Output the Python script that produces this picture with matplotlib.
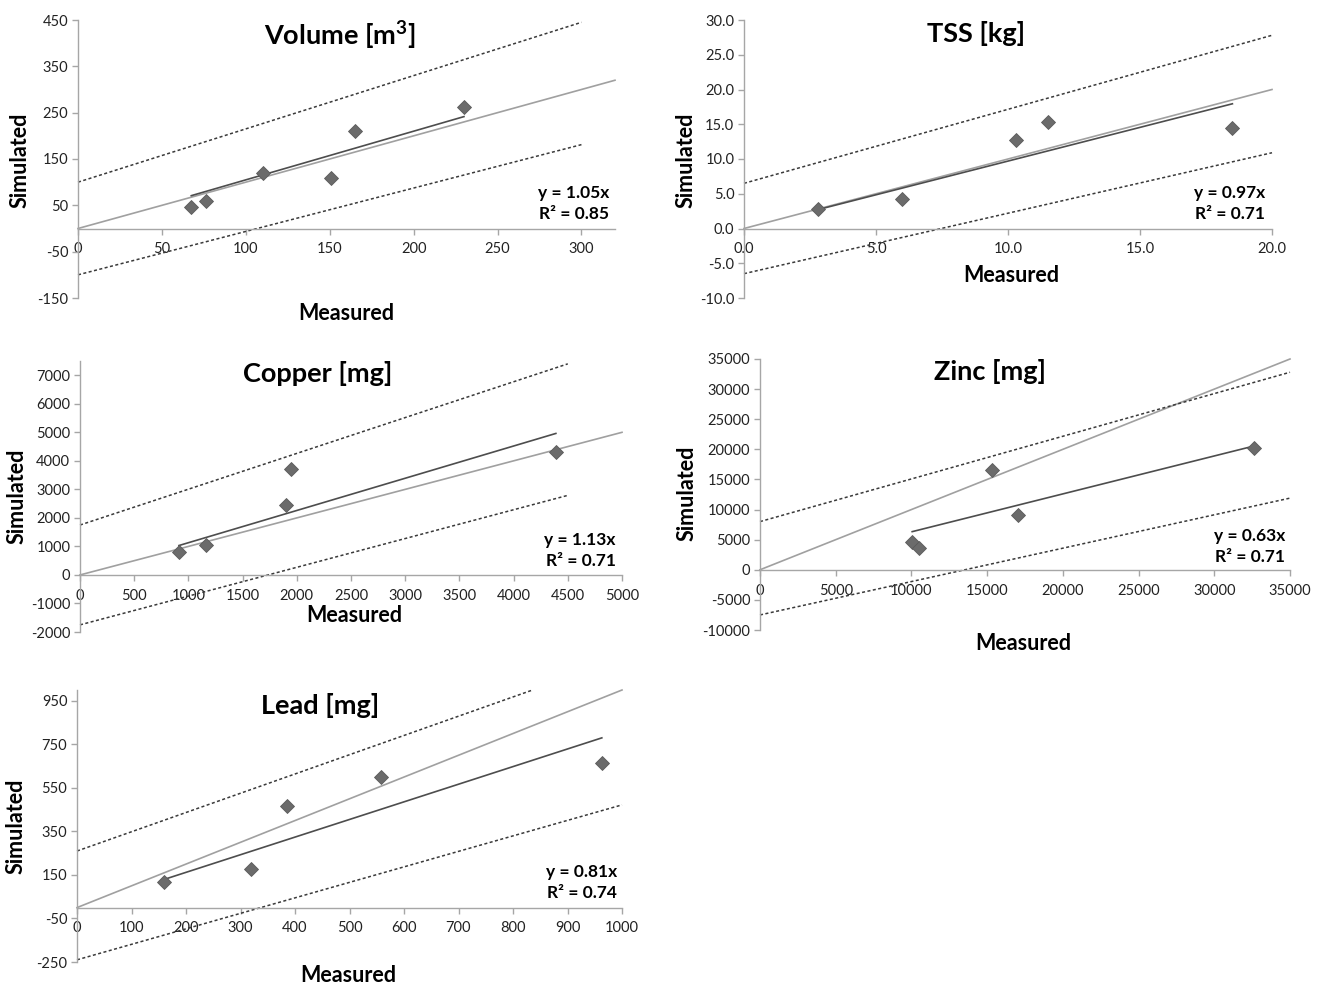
import matplotlib; matplotlib.use('Agg')
import matplotlib.pyplot as plt
import numpy as np

plt.rcParams.update({
    'font.family': ['Lato', 'DejaVu Sans'],
    'font.size': 10.5,
    'axes.linewidth': 1.0,
    'mathtext.fontset': 'custom',
    'mathtext.rm': 'Lato',
    'mathtext.bf': 'Lato:bold',
})
W, H = 1320, 984
AXIS, ONE, FIT, BAND, MARK = '#a6a6a6', '#a0a0a0', '#4d4d4d', '#3a3a3a', '#6b6b6b'

# Volume [m3]
vol_meas = [67.5, 76, 110, 151, 165, 230]
vol_sim = [47, 60, 120, 109, 210, 262]
vol_slope, vol_r2 = 1.05, 0.85
vol_up_x, vol_up_y = [0, 300], [100, 445]
vol_lo_x, vol_lo_y = [0, 300], [-100, 181]

# TSS [kg]
tss_meas = [2.8, 6.0, 10.3, 11.5, 18.5]
tss_sim = [2.8, 4.3, 12.8, 15.3, 14.4]
tss_slope, tss_r2 = 0.97, 0.71
tss_up_x, tss_up_y = [0, 20], [6.5, 27.8]
tss_lo_x, tss_lo_y = [0, 20], [-6.5, 10.9]

# Copper [mg]
cu_meas = [913, 1158, 1904, 1943, 4390]
cu_sim = [790, 1060, 2450, 3720, 4320]
cu_slope, cu_r2 = 1.13, 0.71
cu_up_x, cu_up_y = [0, 4500], [1750, 7400]
cu_lo_x, cu_lo_y = [0, 4500], [-1750, 2790]

# Zinc [mg]
zn_meas = [10050, 10500, 15300, 17050, 32650]
zn_sim = [4650, 3600, 16550, 9100, 20200]
zn_slope, zn_r2 = 0.63, 0.71
zn_up_x, zn_up_y = [0, 35000], [8000, 32800]
zn_lo_x, zn_lo_y = [0, 35000], [-7500, 11900]

# Lead [mg]
pb_meas = [159, 320, 386, 558, 963]
pb_sim = [119, 176, 465, 598, 666]
pb_slope, pb_r2 = 0.81, 0.74
pb_up_x, pb_up_y = [0, 836], [260, 1000]
pb_lo_x, pb_lo_y = [0, 1000], [-240, 472]


def px(x, y):
    return x / W, 1 - y / H


def panel(fig, box, meas, sim, slope, r2, up, lo, xlim, ylim, xticks, yticks,
          fmt, title, tpos, mpos, spos, epos):
    x0, y0, x1, y1 = box
    ax = fig.add_axes([x0 / W, 1 - y1 / H, (x1 - x0) / W, (y1 - y0) / H])
    ax.set_xlim(xlim)
    ax.set_ylim(ylim)
    ax.spines[['top', 'right']].set_visible(False)
    ax.spines['bottom'].set_position(('data', 0))
    for s in ('left', 'bottom'):
        ax.spines[s].set_color(AXIS)
    ax.set_xticks(xticks)
    ax.set_yticks(yticks)
    ax.set_xticklabels([fmt % v for v in xticks])
    ax.set_yticklabels([fmt % v for v in yticks])
    ax.tick_params(direction='out', length=4, width=1, color=AXIS,
                   labelcolor='#222222', labelsize=10.5, pad=3)
    ax.tick_params(axis='x', pad=6)
    ax.patch.set_alpha(0)

    # 1:1 line, fitted line, bands, observations
    ax.plot([0, xlim[1]], [0, xlim[1]], color=ONE, lw=1.2, clip_on=False)
    xf = np.array([min(meas), max(meas)])
    ax.plot(xf, slope * xf, color=FIT, lw=1.2)
    ax.plot(*up, color=BAND, lw=1.1, ls=(0, (2, 1.6)), clip_on=False)
    ax.plot(*lo, color=BAND, lw=1.1, ls=(0, (2, 1.6)), clip_on=False)
    ax.plot(meas, sim, 'D', ms=7.2, color=MARK, mec='#5a5a5a', mew=0.6,
            clip_on=False, zorder=5)

    fig.text(*px(*tpos), title, ha='center', va='center', fontsize=19.5,
             fontweight='bold')
    fig.text(*px(*mpos), 'Measured', ha='center', va='center', fontsize=15.5,
             fontweight='bold')
    fig.text(*px(*spos), 'Simulated', ha='center', va='center', fontsize=15.5,
             fontweight='bold', rotation=90)
    fig.text(*px(epos[0], epos[1]), f'y = {slope:.2f}x', ha='right',
             va='center', fontsize=12.5, fontweight='bold')
    fig.text(*px(epos[0], epos[1] + 21), f'R² = {r2:.2f}', ha='right',
             va='center', fontsize=12.5, fontweight='bold')
    return ax


fig = plt.figure(figsize=(W / 100, H / 100), dpi=100)

panel(fig, (78, 20, 615, 298), vol_meas, vol_sim, vol_slope, vol_r2,
      (vol_up_x, vol_up_y), (vol_lo_x, vol_lo_y), (0, 320), (-150, 450),
      np.arange(0, 301, 50), np.arange(-150, 451, 100), '%d',
      r'Volume [m$^{\mathbf{3}}$]', (340, 35), (346, 313), (20, 160), (609, 193))

panel(fig, (744, 20, 1272, 298), tss_meas, tss_sim, tss_slope, tss_r2,
      (tss_up_x, tss_up_y), (tss_lo_x, tss_lo_y), (0, 20), (-10, 30),
      np.arange(0, 20.1, 5), np.arange(-10, 30.1, 5), '%.1f',
      'TSS [kg]', (976, 33), (1011, 276), (686, 160), (1265, 193))

panel(fig, (80, 361, 622, 632), cu_meas, cu_sim, cu_slope, cu_r2,
      (cu_up_x, cu_up_y), (cu_lo_x, cu_lo_y), (0, 5000), (-2000, 7500),
      np.arange(0, 5001, 500), np.arange(-2000, 7001, 1000), '%d',
      'Copper [mg]', (318, 373), (354, 616), (17, 496), (616, 540))

panel(fig, (760, 359, 1290, 630), zn_meas, zn_sim, zn_slope, zn_r2,
      (zn_up_x, zn_up_y), (zn_lo_x, zn_lo_y), (0, 35000), (-10000, 35000),
      np.arange(0, 35001, 5000), np.arange(-10000, 35001, 5000), '%d',
      'Zinc [mg]', (990, 372), (1023, 643), (687, 493), (1285, 536))

panel(fig, (77, 690, 622, 962), pb_meas, pb_sim, pb_slope, pb_r2,
      (pb_up_x, pb_up_y), (pb_lo_x, pb_lo_y), (0, 1000), (-250, 1000),
      np.arange(0, 1001, 100), np.arange(-250, 951, 200), '%d',
      'Lead [mg]', (320, 705), (348, 975), (16, 826), (617, 872))

fig.savefig('out.png', dpi=100)
